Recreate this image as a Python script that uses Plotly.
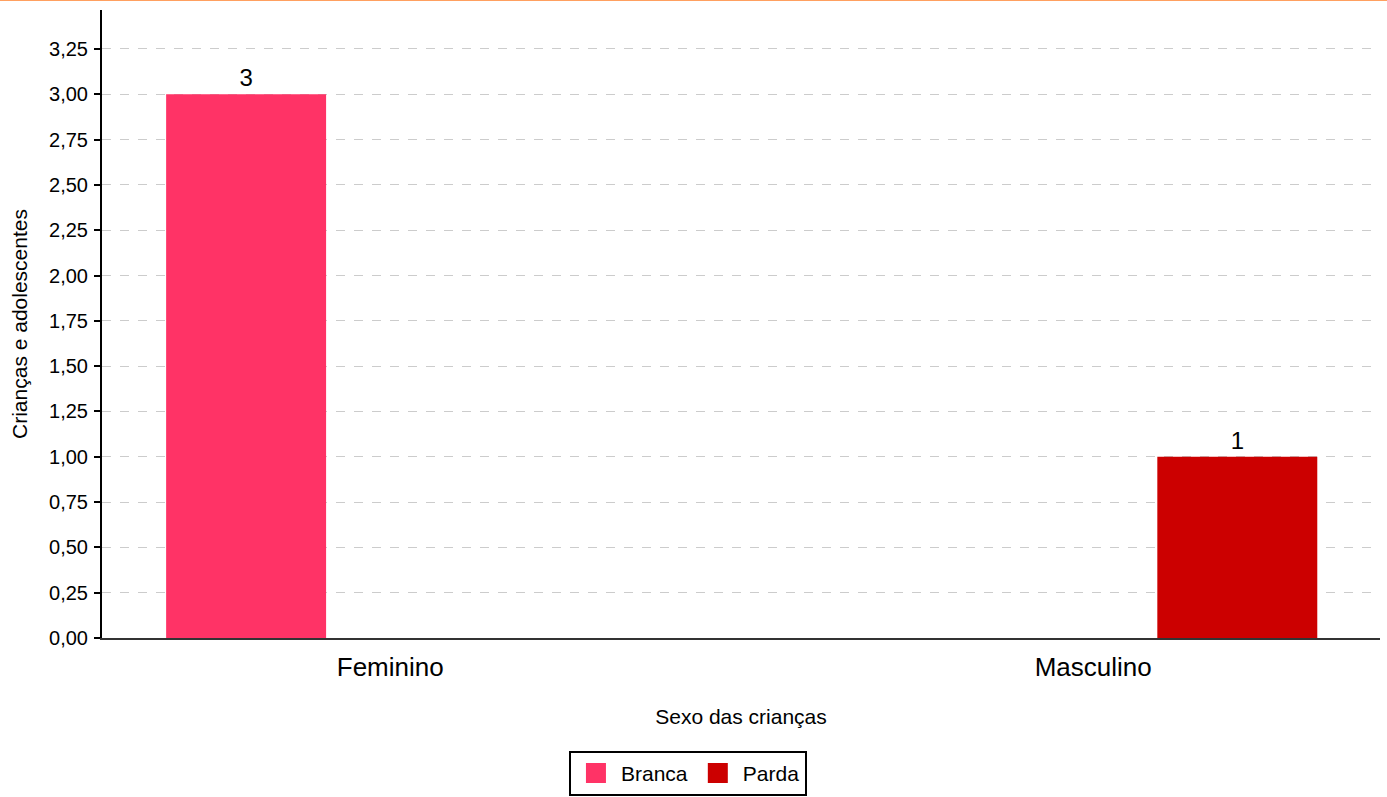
import plotly.graph_objects as go

categories = ["Feminino", "Masculino"]
branca = [3, None]
parda = [None, 1]
branca_text = ["3", ""]
parda_text = ["", "1"]
series_names = ["Branca", "Parda"]
colors = ["#FF3366", "#CC0000"]
tick_vals = [0, 0.25, 0.5, 0.75, 1, 1.25, 1.5, 1.75, 2, 2.25, 2.5, 2.75, 3, 3.25]

FONT = "Liberation Sans, Arial, sans-serif"

fig = go.Figure()
fig.add_trace(go.Bar(x=categories, y=branca, name=series_names[0], marker_color=colors[0],
                     marker_line_width=0,
                     text=branca_text, textposition="outside", cliponaxis=False,
                     textfont=dict(size=24, color="#000"), showlegend=False))
fig.add_trace(go.Bar(x=categories, y=parda, name=series_names[1], marker_color=colors[1],
                     marker_line_width=0,
                     text=parda_text, textposition="outside", cliponaxis=False,
                     textfont=dict(size=24, color="#000"), showlegend=False))
for name, c in zip(series_names, colors):
    fig.add_trace(go.Scatter(x=[None], y=[None], mode="markers", name=name,
                             marker=dict(symbol="square", size=16, color=c,
                                         line=dict(color=c, width=4))))

fig.update_layout(
    width=1387, height=797,
    barmode="group", bargap=0.18, bargroupgap=0.445,
    plot_bgcolor="white", paper_bgcolor="white",
    margin=dict(l=102, r=7, t=10, b=159),
    font=dict(family=FONT, color="#000"),
    separators=",.",
    xaxis=dict(range=[-0.41, 1.408], showgrid=False, showline=True, linecolor="#333",
               linewidth=2, ticks="", tickfont=dict(size=26), ticklabelstandoff=5,
               automargin=False,
               title=dict(text="Sexo das crianças", font=dict(size=21), standoff=28)),
    yaxis=dict(range=[0, 3.465], tickvals=tick_vals, tickformat=".2f", showline=True,
               linecolor="#000", linewidth=2, ticks="outside", ticklen=6, tickwidth=2,
               tickcolor="#000", tickfont=dict(size=20), gridcolor="#cccccc",
               griddash="dash", gridwidth=1, zeroline=False, automargin=False,
               ticklabelstandoff=2,
               title=dict(text="Crianças e adolescentes", font=dict(size=21), standoff=16)),
    legend=dict(orientation="h", xref="container", yref="container", x=0.496, y=0.058,
                xanchor="center", yanchor="top", bordercolor="#000", borderwidth=2,
                font=dict(size=21), itemwidth=40),
    shapes=[dict(type="line", xref="paper", yref="paper", x0=-0.08, x1=1.01,
                 y0=1.0159, y1=1.0159, line=dict(color="#FFA060", width=2))],
)

fig.write_html("out.html", config={"displayModeBar": False},
               post_script="document.body.style.margin='0px';")
